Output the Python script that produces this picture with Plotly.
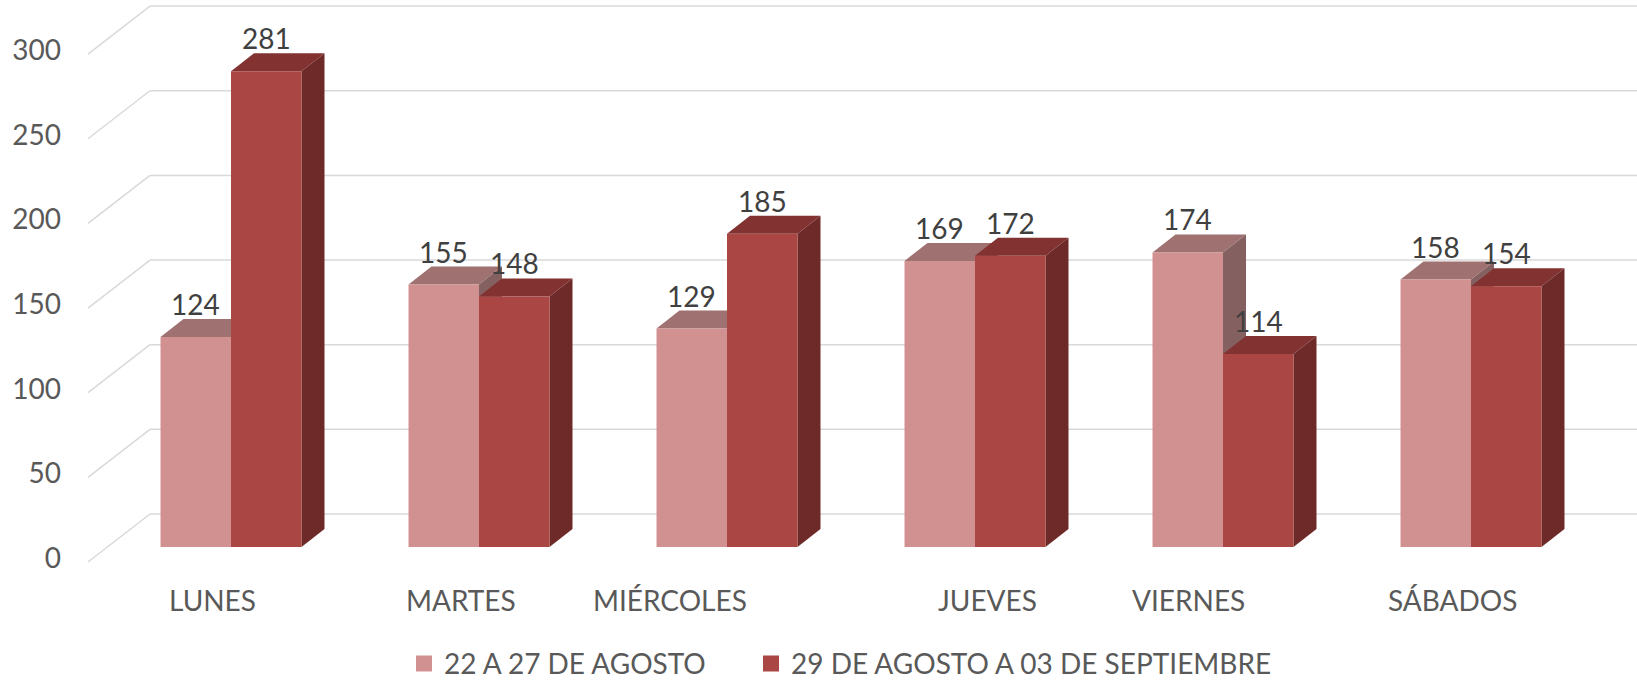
import plotly.graph_objects as go

# ---- data -------------------------------------------------------------
categorias = ["LUNES", "MARTES", "MIÉRCOLES", "JUEVES", "VIERNES", "SÁBADOS"]
agosto = [124, 155, 129, 169, 174, 158]
septiembre = [281, 148, 185, 172, 114, 154]
series_nombres = ["22 A 27 DE AGOSTO", "29 DE AGOSTO A 03 DE SEPTIEMBRE"]
ticks_y = [0, 50, 100, 150, 200, 250, 300]

# ---- layout geometry (pixels) -----------------------------------------
FIG_W, FIG_H = 1637, 682
MARGIN_L = 62
PX_PER_CAT = 248.0      # distance between category groups
FIRST_CAT_PX = 231.0    # pixel centre of the first group
PX_PER_UNIT = 1.693     # vertical pixels per value unit
BASE_PX = 547.0         # pixel row of the value 0 on the bar front plane

def dx(px):
    return px / PX_PER_CAT

def dy(px):
    return px / PX_PER_UNIT

x_range = [dx(MARGIN_L - FIRST_CAT_PX), dx(FIG_W - FIRST_CAT_PX)]
y_range = [dy(BASE_PX - FIG_H), dy(BASE_PX)]

BAR_W = dx(70.5)          # width of one bar
DEPTH_X, DEPTH_Y = dx(23), dy(18)   # bar depth offset

# colours: front / top / side
PINK = ("#D19191", "#A07171", "#856060")
RED = ("#AA4643", "#823231", "#6E2A29")
GRID = "#D9D9D9"
TEXT = "#595959"
LABEL = "#404040"
FONT = "Lato"

shapes = []

# walls: left-side diagonals + back-wall horizontal gridlines
WALL_FRONT_X, WALL_BACK_X = dx(88 - FIRST_CAT_PX), dx(150 - FIRST_CAT_PX)
for v in ticks_y:
    yf, yb = v - dy(15), v + dy(33)
    shapes.append(dict(type="line", xref="x", yref="y", layer="below",
                       x0=WALL_FRONT_X, y0=yf, x1=WALL_BACK_X, y1=yb,
                       line=dict(color=GRID, width=1.5)))
    shapes.append(dict(type="line", xref="x", yref="y", layer="below",
                       x0=WALL_BACK_X, y0=yb, x1=x_range[1], y1=yb,
                       line=dict(color=GRID, width=1.5)))


def box_faces(x_left, value, colors):
    x_right = x_left + BAR_W
    top = (f"M{x_left},{value} L{x_right},{value} "
           f"L{x_right + DEPTH_X},{value + DEPTH_Y} L{x_left + DEPTH_X},{value + DEPTH_Y} Z")
    side = (f"M{x_right},0 L{x_right},{value} "
            f"L{x_right + DEPTH_X},{value + DEPTH_Y} L{x_right + DEPTH_X},{DEPTH_Y} Z")
    return [
        dict(type="path", path=top, xref="x", yref="y", layer="below",
             fillcolor=colors[1], line=dict(width=0)),
        dict(type="path", path=side, xref="x", yref="y", layer="below",
             fillcolor=colors[2], line=dict(width=0)),
    ]


for i in range(len(categorias)):
    shapes += box_faces(i - BAR_W, agosto[i], PINK)
    shapes += box_faces(i, septiembre[i], RED)

fig = go.Figure()

# front faces of the bars
x_idx = list(range(len(categorias)))
fig.add_trace(go.Bar(x=x_idx, y=agosto, width=BAR_W, offset=-BAR_W,
                     marker=dict(color=PINK[0], line=dict(width=0)),
                     showlegend=False, hoverinfo="skip"))
fig.add_trace(go.Bar(x=x_idx, y=septiembre, width=BAR_W, offset=0,
                     marker=dict(color=RED[0], line=dict(width=0)),
                     showlegend=False, hoverinfo="skip"))

# legend entries, one legend box per series
for name, col, leg in zip(series_nombres, (PINK[0], RED[0]), ("legend", "legend2")):
    fig.add_trace(go.Scatter(x=[None], y=[None], mode="markers", name=name,
                             legend=leg,
                             marker=dict(symbol="square", size=18, color=col)))

annotations = []
# value labels
for i in range(len(categorias)):
    for x, v in ((i - BAR_W / 2, agosto[i]), (i + BAR_W / 2, septiembre[i])):
        annotations.append(dict(x=x, y=v, xref="x", yref="y", text=str(v),
                                showarrow=False, yshift=33, yanchor="middle",
                                font=dict(family=FONT, size=28, color=LABEL)))

# category labels
label_shift = [-19, -18, -57, 12, -35, -19]
for i, (cat, sh) in enumerate(zip(categorias, label_shift)):
    annotations.append(dict(x=i, y=dy(BASE_PX - 600), xref="x", yref="y",
                            text=cat, showarrow=False, xshift=sh,
                            yanchor="middle",
                            font=dict(family=FONT, size=28, color=TEXT)))

plot_w = FIG_W - MARGIN_L
legend_style = dict(orientation="h", xanchor="left", y=-0.01, yanchor="bottom",
                    font=dict(family=FONT, size=28, color=TEXT),
                    bgcolor="rgba(0,0,0,0)")
fig.update_layout(
    width=FIG_W, height=FIG_H,
    margin=dict(l=MARGIN_L, r=0, t=0, b=0, autoexpand=False),
    paper_bgcolor="white", plot_bgcolor="white",
    barmode="overlay",
    shapes=shapes,
    annotations=annotations,
    font=dict(family=FONT, size=28, color=TEXT),
    xaxis=dict(range=x_range, showgrid=False, zeroline=False,
               showticklabels=False, showline=False, fixedrange=True),
    yaxis=dict(range=y_range, showgrid=False, zeroline=False, showline=False,
               tickvals=ticks_y, ticks="", ticklabelshift=11,
               tickfont=dict(family=FONT, size=28, color=TEXT)),
    legend=dict(x=(404 - MARGIN_L) / plot_w, **legend_style),
    legend2=dict(x=(751 - MARGIN_L) / plot_w, **legend_style),
)

fig.write_html("out.html")
